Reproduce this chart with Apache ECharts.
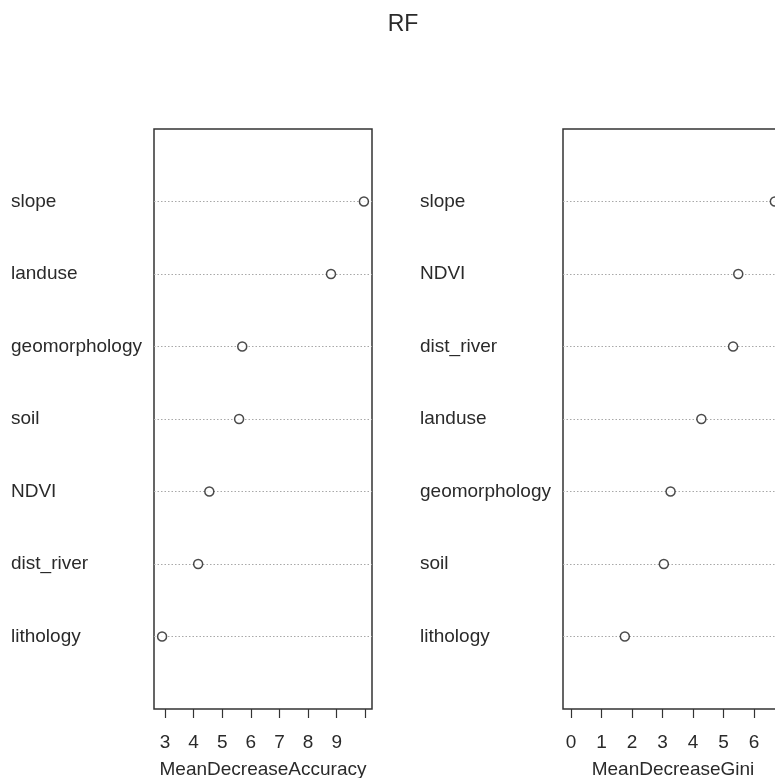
<!DOCTYPE html>
<html>
<head>
<meta charset="utf-8">
<style>
html,body{margin:0;padding:0;background:#fff;}
#chart{width:775px;height:778px;}
</style>
<script src="https://cdn.jsdelivr.net/npm/echarts@6/dist/echarts.min.js"></script>
</head>
<body>
<div id="chart"></div>
<script>
// Panel 1: MeanDecreaseAccuracy (top to bottom)
var accCategories = ["slope", "landuse", "geomorphology", "soil", "NDVI", "dist_river", "lithology"];
var accValues = [9.95, 8.80, 5.70, 5.59, 4.55, 4.16, 2.90];
var accTicks = [3, 4, 5, 6, 7, 8, 9, 10];
var accTickLabels = [3, 4, 5, 6, 7, 8, 9];

// Panel 2: MeanDecreaseGini (top to bottom)
var giniCategories = ["slope", "NDVI", "dist_river", "landuse", "geomorphology", "soil", "lithology"];
var giniValues = [6.68, 5.48, 5.31, 4.27, 3.26, 3.04, 1.76];
var giniTicks = [0, 1, 2, 3, 4, 5, 6, 7];
var giniTickLabels = [0, 1, 2, 3, 4, 5, 6];

var titleText = "RF";

var FONT = "'Liberation Sans', Arial, sans-serif";
var TXT = "#2a2a2a";
var FS = 19;

function rowData(values) {
  var n = values.length;
  return values.map(function (v, i) { return [v, n - i]; });
}
function accLim() {
  var mn = Math.min.apply(null, accValues), mx = Math.max.apply(null, accValues);
  var r = mx - mn;
  return [mn - 0.04 * r, mx + 0.04 * r];
}
function giniLim() {
  var mx = Math.max.apply(null, giniValues);
  var r = mx - 0;
  return [0 - 0.04 * r, mx + 0.04 * r];
}
function yAxisFor(idx, cats) {
  var n = cats.length;
  return {
    type: 'value', gridIndex: idx, min: 0, max: n + 1, interval: 1,
    axisLine: {show: false}, axisTick: {show: false},
    splitLine: {show: true, showMinLine: false, showMaxLine: false,
      lineStyle: {color: '#a8a8a8', type: [1.5, 2], width: 1}},
    axisLabel: {
      show: true, align: 'left', margin: 143,
      fontFamily: FONT, fontSize: FS, color: TXT,
      formatter: function (v) {
        var i = n - v;
        return (v >= 1 && v <= n) ? cats[i] : '';
      }
    }
  };
}
function xAxisFor(idx, lim, ticks, labels, name) {
  return {
    type: 'value', gridIndex: idx, min: lim[0], max: lim[1],
    name: name, nameLocation: 'middle', nameGap: 51,
    nameTextStyle: {fontFamily: FONT, fontSize: FS, color: TXT},
    axisLine: {show: false},
    axisTick: {show: true, length: 9, customValues: ticks,
      lineStyle: {color: '#333', width: 1.2}},
    axisLabel: {show: true, customValues: labels, margin: 24,
      fontFamily: FONT, fontSize: FS, color: TXT},
    splitLine: {show: false}
  };
}

var chart = echarts.init(document.getElementById('chart'), null, {renderer: 'canvas'});
var aL = accLim(), gL = giniLim();
chart.setOption({
  backgroundColor: '#ffffff',
  animation: false,
  title: {
    text: titleText, left: 398, top: 8, textAlign: 'center',
    textStyle: {fontFamily: FONT, fontSize: 23, fontWeight: 'normal', color: TXT}
  },
  grid: [
    {left: 154, top: 129, width: 218, height: 580, show: true, outerBoundsMode: 'none',
     borderColor: '#333', borderWidth: 1.5, backgroundColor: 'transparent'},
    {left: 563, top: 129, width: 220, height: 580, show: true, outerBoundsMode: 'none',
     borderColor: '#333', borderWidth: 1.5, backgroundColor: 'transparent'}
  ],
  xAxis: [
    xAxisFor(0, aL, accTicks, accTickLabels, 'MeanDecreaseAccuracy'),
    xAxisFor(1, gL, giniTicks, giniTickLabels, 'MeanDecreaseGini')
  ],
  yAxis: [yAxisFor(0, accCategories), yAxisFor(1, giniCategories)],
  series: [
    {type: 'scatter', xAxisIndex: 0, yAxisIndex: 0, data: rowData(accValues),
     symbol: 'circle', symbolSize: 9,
     itemStyle: {color: '#ffffff', borderColor: '#1e1e1e', borderWidth: 1.5}},
    {type: 'scatter', xAxisIndex: 1, yAxisIndex: 1, data: rowData(giniValues),
     symbol: 'circle', symbolSize: 9,
     itemStyle: {color: '#ffffff', borderColor: '#1e1e1e', borderWidth: 1.5}}
  ]
});
</script>
</body>
</html>
